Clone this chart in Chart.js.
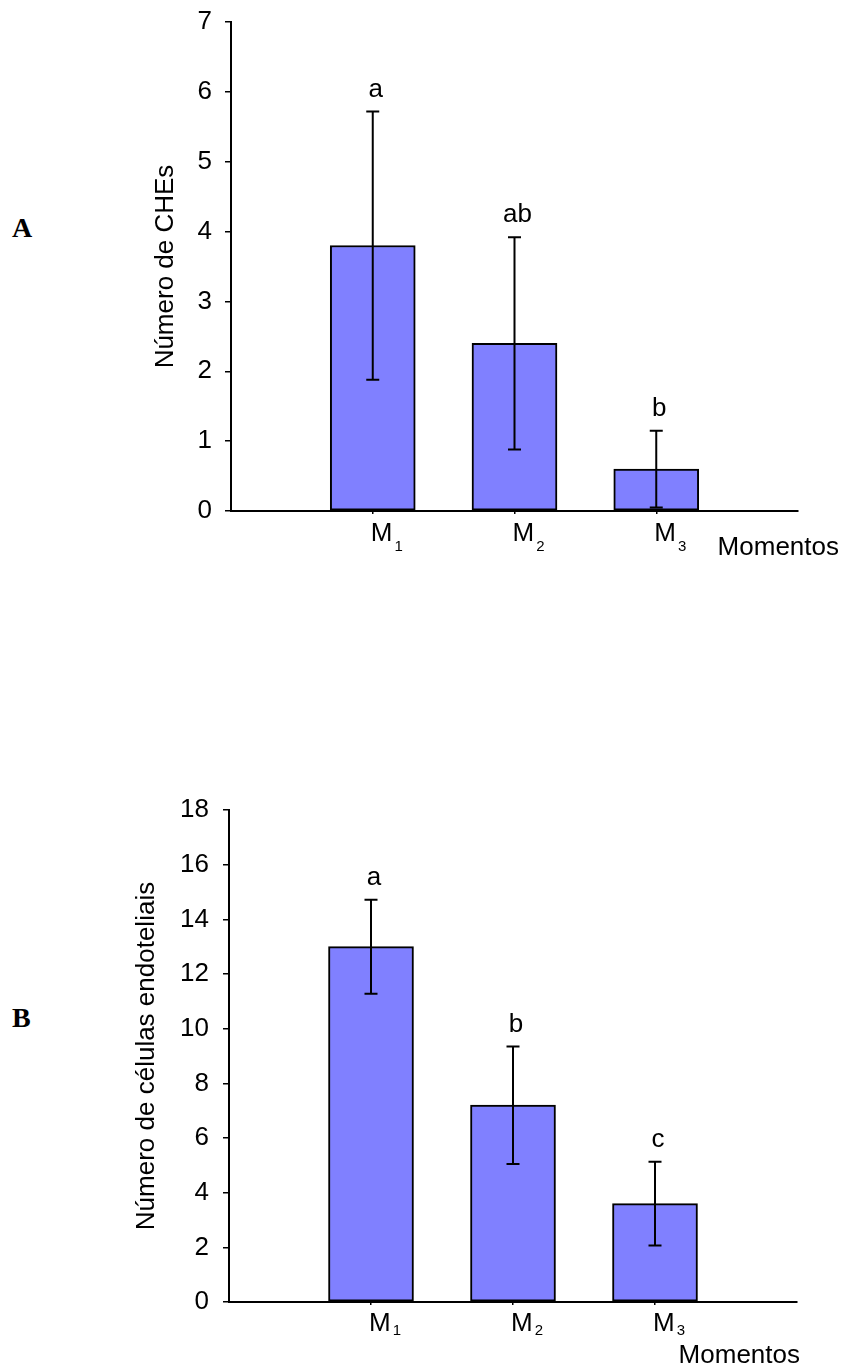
<!DOCTYPE html>
<html>
<head>
<meta charset="utf-8">
<script src="https://cdn.jsdelivr.net/npm/chart.js@4.4.1/dist/chart.umd.min.js"></script>
<style>
  body { margin: 0; background: #fff; width: 842px; height: 1369px; position: relative; overflow: hidden; }
  .painel { position: absolute; left: 0; width: 842px; }
  .letra { position: absolute; left: 12px; font-family: "Liberation Serif", "Times New Roman", serif; font-weight: bold; font-size: 28px; line-height: 28px; }
</style>
</head>
<body>
<div class="letra" style="top:214px">A</div>
<div class="painel" style="top:0;height:600px"><canvas id="grafA"></canvas></div>
<div class="letra" style="top:1004px">B</div>
<div class="painel" style="top:760px;height:609px"><canvas id="grafB"></canvas></div>

<script>
// dados
const momentos = ['M1', 'M2', 'M3']

// A - número de CHEs (média e desvio)
const chesMedia = [3.8, 2.4, 0.6]
const chesDP = [1.92, 1.52, 0.55]
const chesLetras = ['a', 'ab', 'b']
const chesTicks = [0, 1, 2, 3, 4, 5, 6, 7]

// B - número de células endoteliais
const celMedia = [13.0, 7.2, 3.6]
const celDP = [1.72, 2.15, 1.53]
const celLetras = ['a', 'b', 'c']
const celTicks = [0, 2, 4, 6, 8, 10, 12, 14, 16, 18]

const fonte = '"Liberation Sans", Arial, sans-serif'

// barras de erro, letras e rótulos com subscrito
const anotacoes = {
    id: 'anotacoes',
    afterDatasetsDraw(chart, args, opts) {
        const ctx = chart.ctx
        const y = chart.scales.y
        const area = chart.chartArea
        const meta = chart.getDatasetMeta(0)
        const dados = chart.data.datasets[0].data
        ctx.save()
        meta.data.forEach((bar, i) => {
            const v = dados[i]
            if (v == null) return
            const k = i - 1
            const topo = y.getPixelForValue(v + opts.dp[k])
            const base = y.getPixelForValue(v - opts.dp[k])
            ctx.strokeStyle = '#000'
            ctx.lineWidth = 2
            ctx.beginPath()
            ctx.moveTo(bar.x, topo); ctx.lineTo(bar.x, base)
            ctx.moveTo(bar.x - 6.5, topo); ctx.lineTo(bar.x + 6.5, topo)
            ctx.moveTo(bar.x - 6.5, base); ctx.lineTo(bar.x + 6.5, base)
            ctx.stroke()

            ctx.fillStyle = '#000'
            ctx.font = '26px ' + fonte
            ctx.textAlign = 'center'
            ctx.textBaseline = 'middle'
            ctx.fillText(opts.letras[k], bar.x + 3, topo - 22)

            // M com subscrito
            const rot = chart.data.labels[i]
            ctx.textAlign = 'left'
            ctx.textBaseline = 'alphabetic'
            ctx.font = '26px ' + fonte
            const x0 = bar.x - 2
            ctx.fillText(rot[0], x0, area.bottom + opts.dyM)
            const w = ctx.measureText(rot[0]).width
            ctx.font = '15px ' + fonte
            ctx.fillText(rot.slice(1), x0 + w + 2, area.bottom + opts.dySub)
        })
        ctx.font = '26px ' + fonte
        ctx.textAlign = 'right'
        ctx.textBaseline = 'middle'
        ctx.fillText('Momentos', opts.momX, opts.momY)
        ctx.restore()
    }
}

function criarGrafico(id, media, dp, letras, ticks, tituloY, g) {
    const labels = ['', ...momentos, '']
    const valores = [null, ...media, null]
    return new Chart(document.getElementById(id), {
        type: 'bar',
        data: {
            labels: labels,
            datasets: [{
                data: valores,
                backgroundColor: '#8080FF',
                borderColor: '#000',
                borderWidth: 2,
                borderSkipped: false,
                barThickness: 85
            }]
        },
        plugins: [anotacoes],
        options: {
            responsive: true,
            maintainAspectRatio: false,
            animation: false,
            layout: { padding: { left: 0, top: g.top, right: g.right, bottom: 0 } },
            plugins: {
                legend: { display: false },
                tooltip: { enabled: false },
                anotacoes: { dp: dp, letras: letras, dyM: g.dyM, dySub: g.dySub, momX: g.momX, momY: g.momY }
            },
            scales: {
                x: {
                    type: 'category',
                    offset: false,
                    ticks: { display: false },
                    grid: {
                        offset: false,
                        drawOnChartArea: false,
                        tickLength: 3,
                        lineWidth: 1.5,
                        color: c => (labels[c.index] ? '#000' : 'rgba(0,0,0,0)')
                    },
                    border: { color: '#000', width: 2 },
                    afterFit: s => { s.height = g.xAltura }
                },
                y: {
                    min: ticks[0],
                    max: ticks[ticks.length - 1],
                    afterBuildTicks: s => { s.ticks = ticks.map(v => ({ value: v })) },
                    ticks: { color: '#000', padding: g.pad, font: { family: fonte, size: 26 } },
                    grid: { drawOnChartArea: false, tickLength: 6, lineWidth: 1.5, color: '#000' },
                    border: { color: '#000', width: 2 },
                    title: {
                        display: true,
                        text: tituloY,
                        color: '#000',
                        font: { family: fonte, size: 26 },
                        padding: { top: g.tituloPad, bottom: 0 }
                    },
                    afterFit: s => {
                        s.width = g.yLargura
                        s.paddingTop = 0
                        s.paddingBottom = 0
                    }
                }
            }
        }
    })
}

criarGrafico('grafA', chesMedia, chesDP, chesLetras, chesTicks, 'Número de CHEs',
    { top: 22, right: 44, xAltura: 89, yLargura: 231, pad: 13, tituloPad: 150, dyM: 30, dySub: 40, momX: 839, momY: 548 })

criarGrafico('grafB', celMedia, celDP, celLetras, celTicks, 'Número de células endoteliais',
    { top: 50, right: 45, xAltura: 67, yLargura: 229, pad: 14, tituloPad: 131, dyM: 29, dySub: 33, momX: 800, momY: 596 })
</script>
</body>
</html>
